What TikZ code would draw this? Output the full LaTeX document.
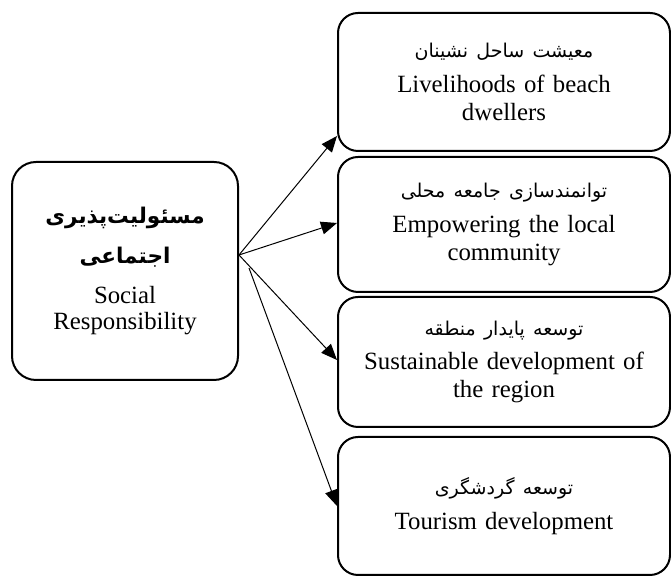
\documentclass[tikz,border=0pt]{standalone}
\usepackage{fontspec}
\setmainfont{Liberation Serif}
\newfontfamily\fafont[Script=Arabic]{DejaVu Sans}
\TeXXeTstate=1
\usetikzlibrary{arrows.meta}

\newcommand{\fa}[1]{{\fafont\fontsize{9.5pt}{14pt}\selectfont\beginR #1\endR}}
\newcommand{\fabold}[1]{{\fafont\bfseries\fontsize{10.8pt}{14pt}\selectfont\beginR #1\endR}}

\begin{document}
\begin{tikzpicture}[x=0.5pt,y=-0.5pt,
  box/.style={draw,line width=1pt,rounded corners=10pt,align=center,inner sep=0pt,
    text width=158pt,minimum width=166pt,font=\fontsize{12.4pt}{14.2pt}\selectfont},
  bigbox/.style={box,rounded corners=12pt,text width=108pt,minimum width=113pt,minimum height=109pt,
    font=\fontsize{12.4pt}{13pt}\selectfont},
  link/.style={-{Triangle[length=8pt,width=6.5pt]},line width=0.5pt}]

\useasboundingbox (0,0) rectangle (671,576);
\clip (0,0) rectangle (671,576);

\node[bigbox] (social) at (125,271) {\fabold{مسئولیت^^^^200cپذیری}\\[7pt]\fabold{اجتماعی}\\[7pt]Social\\Responsibility};

\node[box,minimum height=69pt] (live) at (504,82) {\fa{معیشت ساحل نشینان}\\[3pt]Livelihoods of beach\\dwellers};
\node[box,minimum height=67.5pt] (empower) at (504,224.5) {\fa{توانمندسازی جامعه محلی}\\[3pt]Empowering the local\\community};
\node[box,minimum height=65pt] (sustain) at (504,362) {\fa{توسعه پایدار منطقه}\\[3pt]Sustainable development of\\the region};
\node[box,minimum height=69pt] (tourism) at (504,506) {\fa{توسعه گردشگری}\\[3pt]Tourism development};

\coordinate (fan) at ([yshift=8pt]social.east);
\coordinate (fanlow) at ([xshift=5pt,yshift=1.5pt]social.east);

\draw[link] (fan) -- ([yshift=8pt]live.south west);
\draw[link] (fan) -- ([yshift=0.75pt]empower.west);
\draw[link] (fan) -- ([yshift=1pt]sustain.west);
\draw[link] (fanlow) -- (tourism.west);

\end{tikzpicture}
\end{document}
